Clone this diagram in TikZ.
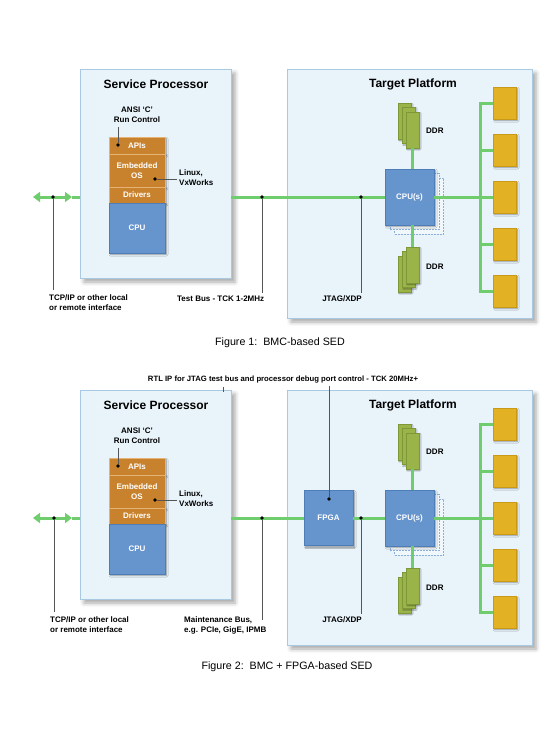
\documentclass[tikz,border=0pt]{standalone}
\usepackage{fontspec}
\setmainfont{Liberation Sans}
\usetikzlibrary{arrows.meta,shadows.blur}
\definecolor{panelfill}{HTML}{E8F3FA}
\definecolor{panelline}{HTML}{A9C9E2}
\definecolor{layerfill}{HTML}{C8822E}
\definecolor{layerline}{HTML}{E6B374}
\definecolor{chipfill}{HTML}{6694CC}
\definecolor{chipline}{HTML}{4F7DB8}
\definecolor{ddrfill}{HTML}{9BB44A}
\definecolor{ddrline}{HTML}{7E9838}
\definecolor{iofill}{HTML}{E2B224}
\definecolor{ioline}{HTML}{C99A18}
\definecolor{busgreen}{HTML}{70CD6E}
\definecolor{leadgray}{HTML}{555555}
\begin{document}
\begin{tikzpicture}[x=1pt,y=-1pt]
          \tikzstyle{every node}=[inner sep=0pt,font=\fontsize{8}{10}\selectfont\bfseries];
          \tikzstyle{panel}=[draw=panelline,fill=panelfill,blur shadow={shadow xshift=4pt,shadow yshift=-4pt,shadow blur radius=4pt,shadow opacity=35}];
          \tikzstyle{title}=[font=\fontsize{12}{14}\selectfont\bfseries];
          \tikzstyle{layer}=[draw=layerline,fill=layerfill,text=white,minimum width=56pt,align=center,blur shadow={shadow xshift=1.5pt,shadow yshift=-1.5pt,shadow blur radius=1.5pt,shadow opacity=40}];
          \tikzstyle{chip}=[draw=chipline,fill=chipfill,text=white,blur shadow={shadow xshift=1.5pt,shadow yshift=-1.5pt,shadow blur radius=1.5pt,shadow opacity=40}];
          \tikzstyle{ghost}=[draw=chipfill!75,fill=white!40!panelfill,dashed,dash pattern=on 2pt off 1pt,minimum width=49pt,minimum height=56pt];
          \tikzstyle{ddr}=[draw=ddrline,fill=ddrfill,minimum width=13pt,minimum height=36pt,blur shadow={shadow xshift=1pt,shadow yshift=-1pt,shadow blur radius=1pt,shadow opacity=35}];
          \tikzstyle{io}=[draw=ioline,fill=iofill,minimum width=23pt,minimum height=32pt,blur shadow={shadow xshift=1.5pt,shadow yshift=-1.5pt,shadow blur radius=1.5pt,shadow opacity=40}];
          \tikzstyle{bus}=[draw=busgreen,line width=3pt];
          \tikzstyle{twoway}=[bus,{Triangle[length=7pt,width=10pt]}-{Triangle[length=7pt,width=10pt]}];
          \tikzstyle{lead}=[draw=leadgray,line width=1pt];
          \tikzstyle{dot}=[circle,fill=black,minimum size=3.6pt];
          \tikzstyle{caption}=[font=\fontsize{10.7}{12}\selectfont];
          \useasboundingbox (0,0) rectangle (547,731);
          %figure 1
          \node[panel,minimum width=151pt,minimum height=209pt] (sp1) at (155.5,173.5) {};
          \node[panel,minimum width=245pt,minimum height=249pt] (tp1) at (409.5,193.5) {};
          \node[title] (sptitle1) at (156,84) {Service Processor};
          \node[title] (tptitle1) at (413,84) {Target Platform};
          \node[align=center] (ansi1) at (137,114.5) {ANSI ‘C’\\Run Control};
          \node[layer,minimum height=17pt] (api1) at (137,145.5) {APIs};
          \node[layer,minimum height=33pt] (os1) at (137,170.5) {Embedded\\OS};
          \node[layer,minimum height=16pt] (drv1) at (137,195) {Drivers};
          \node[chip,minimum width=56pt,minimum height=50pt] (cpu1) at (137,228) {CPU};
          \node[dot] (apidot1) at (118,145) {};
          \coordinate (apitip1) at (118,127);
          \node[dot] (osdot1) at (155,179) {};
          \node[anchor=west,align=left] (linux1) at (179,178) {Linux,\\VxWorks};
          \node[ghost] (ghostb1) at (419,206) {};
          \node[ghost] (ghosta1) at (414.5,201.5) {};
          \node[chip,minimum width=49pt,minimum height=56pt] (cpus1) at (409.5,197) {CPU(s)};
          \node[ddr] (ddrta1) at (404.5,121) {};
          \node[ddr] (ddrtb1) at (408.5,125.5) {};
          \node[ddr] (ddrtc1) at (412.5,130) {};
          \node[anchor=west] (ddrtl1) at (426,131) {DDR};
          \node[ddr] (ddrba1) at (404.5,274) {};
          \node[ddr] (ddrbb1) at (408.5,269.5) {};
          \node[ddr] (ddrbc1) at (412.5,265) {};
          \node[anchor=west] (ddrbl1) at (426,267) {DDR};
          \node[io] (io11) at (504.5,103) {};
          \node[io] (io12) at (504.5,150) {};
          \node[io] (io13) at (504.5,197) {};
          \node[io] (io14) at (504.5,244) {};
          \node[io] (io15) at (504.5,291) {};
          \coordinate (trunk1) at (480,197);
          \coordinate (netl1) at (33,197);
          \coordinate (netr1) at (72,197);
          \draw[twoway] (netl1) -- (netr1);
          \draw[bus] (netr1) -- (sp1.west |- netr1);
          \draw[bus] (sp1.east |- cpus1.west) -- (cpus1.west);
          \draw[bus] (ddrtc1.south) -- (ddrtc1.south |- cpus1.north);
          \draw[bus] (ddrbc1.north) -- (ddrbc1.north |- cpus1.south);
          \draw[bus] (cpus1.east) -- (trunk1);
          \draw[bus] (io11.west) -- (trunk1 |- io11.west) -- (trunk1 |- io15.west) -- (io15.west);
          \draw[bus] (io12.west) -- (trunk1 |- io12.west)
          (io13.west) -- (trunk1 |- io13.west)
          (io14.west) -- (trunk1 |- io14.west);
          \node[dot] (tcpdot1) at (53,197) {};
          \node[dot] (testdot1) at (262,197) {};
          \node[dot] (jtagdot1) at (361,197) {};
          \node[anchor=north west,align=left] (tcp1) at (49,294) {TCP/IP or other local\\or remote interface};
          \node[anchor=west] (test1) at (177,299) {Test Bus - TCK 1-2MHz};
          \node (jtag1) at (342,299) {JTAG/XDP};
          \draw[lead] (apidot1) -- (apitip1);
          \draw[lead,shorten >=2pt] (osdot1) -- (osdot1 -| linux1.west);
          \draw[lead,shorten >=4pt] (tcpdot1) -- (tcpdot1 |- tcp1.north);
          \draw[lead,shorten >=3pt] (testdot1) -- (testdot1 |- test1.north);
          \draw[lead,shorten >=3pt] (jtagdot1) -- (jtagdot1 |- jtag1.north);
          \node[caption] (cap1) at (280,343) {Figure 1:\ \ BMC-based SED};
          %figure 2
          \node[panel,minimum width=151pt,minimum height=209pt] (sp2) at (155.5,494.5) {};
          \node[panel,minimum width=245pt,minimum height=255pt] (tp2) at (409.5,517.5) {};
          \node[title] (sptitle2) at (156,405) {Service Processor};
          \node[title] (tptitle2) at (413,405) {Target Platform};
          \node[align=center] (ansi2) at (137,435.5) {ANSI ‘C’\\Run Control};
          \node[layer,minimum height=17pt] (api2) at (137,466.5) {APIs};
          \node[layer,minimum height=33pt] (os2) at (137,491.5) {Embedded\\OS};
          \node[layer,minimum height=16pt] (drv2) at (137,516) {Drivers};
          \node[chip,minimum width=56pt,minimum height=50pt] (cpu2) at (137,549) {CPU};
          \node[dot] (apidot2) at (118,466) {};
          \coordinate (apitip2) at (118,448);
          \node[dot] (osdot2) at (155,500) {};
          \node[anchor=west,align=left] (linux2) at (179,499) {Linux,\\VxWorks};
          \node[chip,minimum width=49pt,minimum height=55pt] (fpga2) at (328.5,518) {FPGA};
          \node[ghost] (ghostb2) at (419,527) {};
          \node[ghost] (ghosta2) at (414.5,522.5) {};
          \node[chip,minimum width=49pt,minimum height=56pt] (cpus2) at (409.5,518) {CPU(s)};
          \node[ddr] (ddrta2) at (404.5,442) {};
          \node[ddr] (ddrtb2) at (408.5,446.5) {};
          \node[ddr] (ddrtc2) at (412.5,451) {};
          \node[anchor=west] (ddrtl2) at (426,452) {DDR};
          \node[ddr] (ddrba2) at (404.5,595) {};
          \node[ddr] (ddrbb2) at (408.5,590.5) {};
          \node[ddr] (ddrbc2) at (412.5,586) {};
          \node[anchor=west] (ddrbl2) at (426,588) {DDR};
          \node[io] (io21) at (504.5,424) {};
          \node[io] (io22) at (504.5,471) {};
          \node[io] (io23) at (504.5,518) {};
          \node[io] (io24) at (504.5,565) {};
          \node[io] (io25) at (504.5,612) {};
          \coordinate (trunk2) at (480,518);
          \coordinate (netl2) at (33,518);
          \coordinate (netr2) at (72,518);
          \draw[twoway] (netl2) -- (netr2);
          \draw[bus] (netr2) -- (sp2.west |- netr2);
          \draw[bus] (sp2.east |- fpga2.west) -- (fpga2.west);
          \draw[bus] (fpga2.east) -- (cpus2.west);
          \draw[bus] (ddrtc2.south) -- (ddrtc2.south |- cpus2.north);
          \draw[bus] (ddrbc2.north) -- (ddrbc2.north |- cpus2.south);
          \draw[bus] (cpus2.east) -- (trunk2);
          \draw[bus] (io21.west) -- (trunk2 |- io21.west) -- (trunk2 |- io25.west) -- (io25.west);
          \draw[bus] (io22.west) -- (trunk2 |- io22.west)
          (io23.west) -- (trunk2 |- io23.west)
          (io24.west) -- (trunk2 |- io24.west);
          \node[dot] (tcpdot2) at (54,518) {};
          \node[dot] (maintdot2) at (262,518) {};
          \node[dot] (jtagdot2) at (361,518) {};
          \node[dot] (fpgadot2) at (329,499) {};
          \node[anchor=north west,align=left] (tcp2) at (50,616) {TCP/IP or other local\\or remote interface};
          \node[anchor=north west,align=left] (maint2) at (184,616) {Maintenance Bus,\\e.g. PCIe, GigE, IPMB};
          \node (jtag2) at (342,620) {JTAG/XDP};
          \node[font=\fontsize{7.7}{9}\selectfont\bfseries] (rtl2) at (283,380) {RTL IP for JTAG test bus and processor debug port control - TCK 20MHz+};
          \coordinate (ticka2) at (223,387);
          \coordinate (tickb2) at (223,392);
          \coordinate (mainttip2) at (262,620);
          \draw[lead] (apidot2) -- (apitip2);
          \draw[lead,shorten >=2pt] (osdot2) -- (osdot2 -| linux2.west);
          \draw[lead,shorten >=4pt] (tcpdot2) -- (tcpdot2 |- tcp2.north);
          \draw[lead] (maintdot2) -- (mainttip2);
          \draw[lead,shorten >=3pt] (jtagdot2) -- (jtagdot2 |- jtag2.north);
          \draw[lead,shorten >=2pt] (fpgadot2) -- (fpgadot2 |- rtl2.south);
          \draw[lead] (ticka2) -- (tickb2);
          \node[caption] (cap2) at (287,667) {Figure 2:\ \ BMC + FPGA-based SED};
\end{tikzpicture}
\end{document}
